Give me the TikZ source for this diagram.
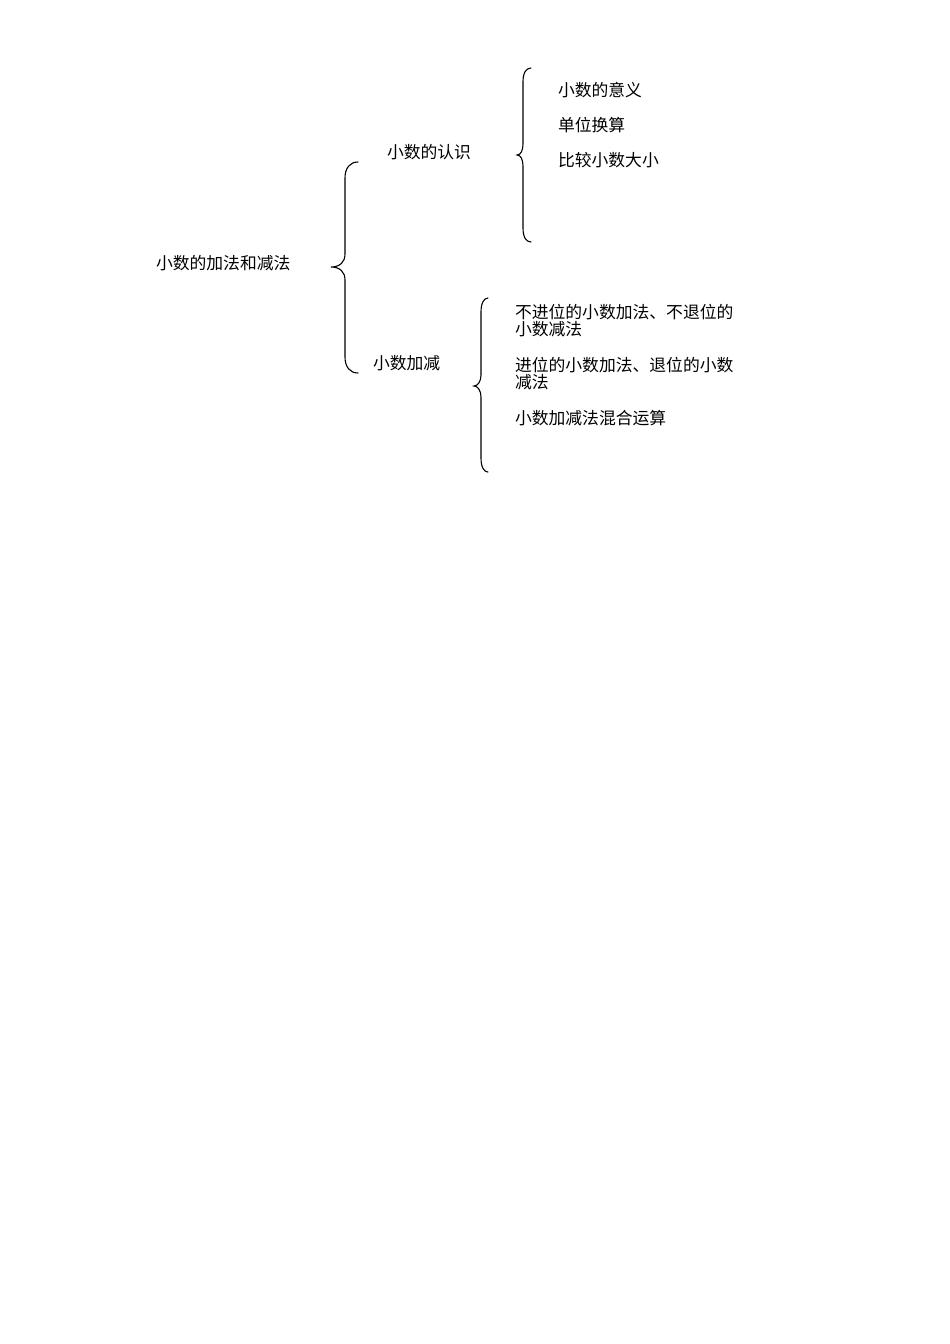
\documentclass[tikz,border=0pt]{standalone}
\usepackage{fontspec}
\newfontfamily\cjk{Noto Sans CJK SC}
\tikzset{
  lbl/.style={anchor=base west, inner sep=0pt, outer sep=0pt, font=\cjk\fontsize{16.8}{15}\selectfont, align=left, text=black},
  brace/.style={draw=black, line width=1.1pt, line cap=round}
}
\begin{document}
\begin{tikzpicture}[x=1pt,y=-1pt]
\useasboundingbox (0,0) rectangle (950,1344);
\fill[white] (0,0) rectangle (950,1344);
% texts (baseline = visual centre + 6.3)
\node[lbl] (root) at (156,269.5) {小数的加法和减法};
\node[lbl] (rz) at (387,158.3) {小数的认识};
\node[lbl] (jj) at (373,369.3) {小数加减};
\node[lbl] (a1) at (558,96.3) {小数的意义};
\node[lbl] (a2) at (558,131.3) {单位换算};
\node[lbl] (a3) at (558,166.3) {比较小数大小};
\node[lbl] (b1) at (515,335.3) {不进位的小数加法、不退位的\\小数减法};
\node[lbl] (b2) at (515,388.3) {进位的小数加法、退位的小数\\减法};
\node[lbl] (b3) at (515,424.3) {小数加减法混合运算};
% braces
\coordinate (t1) at (358,162); \coordinate (m1) at (331,267); \coordinate (e1) at (358,373);
\draw[brace] (t1) .. controls (350,162) and (345,168) .. (345,178) -- (345,254)
  .. controls (345,262) and (340,267) .. (m1) .. controls (340,267) and (345,272) .. (345,280)
  -- (345,357) .. controls (345,367) and (350,373) .. (e1);
\coordinate (t2) at (531,68); \coordinate (m2) at (517,155); \coordinate (e2) at (531,242);
\draw[brace] (t2) .. controls (526,68) and (523,73) .. (523,82) -- (523,144)
  .. controls (523,150) and (521,155) .. (m2) .. controls (521,155) and (523,160) .. (523,166)
  -- (523,228) .. controls (523,237) and (526,242) .. (e2);
\coordinate (t3) at (488,298); \coordinate (m3) at (474,386); \coordinate (e3) at (488,472);
\draw[brace] (t3) .. controls (484,298) and (481,303) .. (481,312) -- (481,375)
  .. controls (481,381) and (478,386) .. (m3) .. controls (478,386) and (481,391) .. (481,397)
  -- (481,458) .. controls (481,467) and (484,472) .. (e3);
\end{tikzpicture}
\end{document}
